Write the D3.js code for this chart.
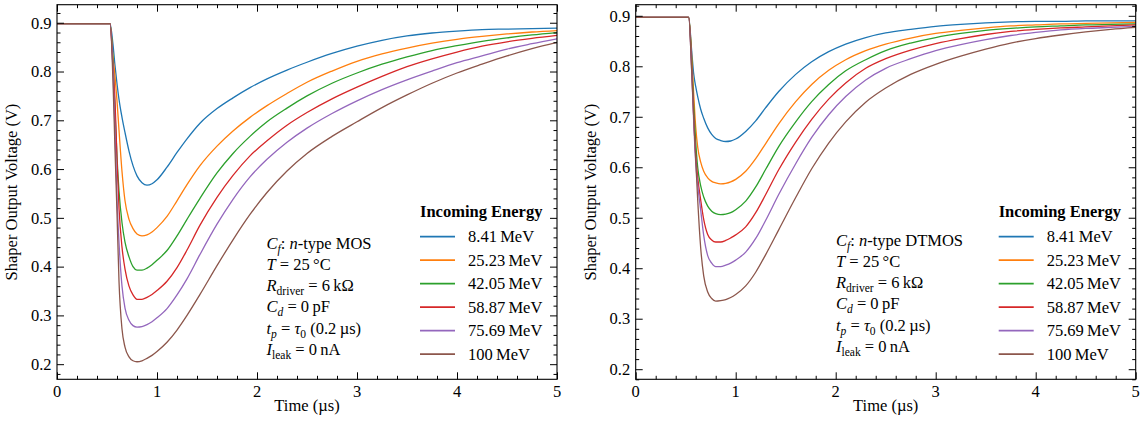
<!DOCTYPE html>
<html>
<head>
<meta charset="utf-8">
<script src="https://cdn.jsdelivr.net/npm/d3@7"></script>
<style>
  html, body { margin: 0; padding: 0; background: #fff; }
  svg { display: block; font-family: "Liberation Serif", "DejaVu Serif", serif; }
</style>
</head>
<body>
<svg id="chart" width="1142" height="425"></svg>
<script>
// Sample times (µs) shared by every trace
const times = [0, 0.53, 0.56, 0.58, 0.60, 0.62, 0.65, 0.68, 0.72, 0.76, 0.80, 0.85, 0.90, 0.95, 1.0,
               1.1, 1.2, 1.3, 1.43, 1.6, 1.76, 1.93, 2.1, 2.3, 2.5, 2.75, 3.0, 3.25, 3.5, 3.75,
               4.0, 4.25, 4.5, 4.75, 5.0];

const energies = ["8.41\u2009MeV", "25.23\u2009MeV", "42.05\u2009MeV", "58.87\u2009MeV", "75.69\u2009MeV", "100\u2009MeV"];
const colors = ["#1f77b4", "#ff7f0e", "#2ca02c", "#d62728", "#9467bd", "#8c564b"];

// Shaper output (V), n-type MOS feedback capacitor
const mos841  = [0.898,0.898,0.855,0.812,0.775,0.743,0.706,0.675,0.637,0.607,0.586,0.572,0.567,0.570,0.578,0.604,0.634,0.662,0.694,0.724,0.746,0.767,0.785,0.803,0.819,0.837,0.852,0.864,0.873,0.879,0.883,0.886,0.887,0.888,0.889];
const mos2523 = [0.898,0.898,0.83,0.79,0.74,0.68,0.595,0.535,0.497,0.478,0.467,0.463,0.465,0.471,0.48,0.503,0.535,0.568,0.607,0.647,0.678,0.706,0.730,0.755,0.778,0.801,0.821,0.836,0.848,0.858,0.866,0.872,0.877,0.881,0.884];
const mos4205 = [0.898,0.898,0.82,0.72,0.625,0.555,0.49,0.45,0.42,0.40,0.393,0.393,0.397,0.404,0.413,0.433,0.463,0.497,0.540,0.592,0.632,0.667,0.697,0.725,0.750,0.776,0.797,0.815,0.830,0.843,0.853,0.862,0.869,0.875,0.880];
const mos5887 = [0.898,0.898,0.81,0.74,0.62,0.52,0.44,0.395,0.36,0.342,0.333,0.333,0.337,0.343,0.351,0.370,0.398,0.434,0.485,0.542,0.587,0.627,0.658,0.690,0.716,0.744,0.768,0.790,0.810,0.826,0.840,0.852,0.861,0.868,0.874];
const mos7569 = [0.898,0.898,0.80,0.68,0.54,0.45,0.36,0.315,0.29,0.279,0.276,0.277,0.281,0.287,0.295,0.314,0.342,0.375,0.425,0.487,0.538,0.584,0.620,0.655,0.684,0.714,0.740,0.763,0.783,0.801,0.818,0.832,0.846,0.857,0.867];
const mos100  = [0.898,0.898,0.78,0.64,0.51,0.37,0.272,0.235,0.215,0.207,0.205,0.207,0.212,0.218,0.226,0.245,0.27,0.30,0.343,0.402,0.455,0.507,0.552,0.596,0.632,0.667,0.697,0.726,0.752,0.776,0.797,0.815,0.832,0.847,0.860];

// Shaper output (V), n-type DTMOS feedback capacitor
const dt841  = [0.897,0.897,0.83,0.785,0.76,0.74,0.715,0.697,0.678,0.665,0.657,0.653,0.651,0.652,0.656,0.671,0.692,0.718,0.750,0.784,0.809,0.829,0.844,0.857,0.866,0.873,0.879,0.883,0.886,0.888,0.889,0.889,0.890,0.890,0.890];
const dt2523 = [0.897,0.897,0.82,0.745,0.68,0.64,0.61,0.592,0.579,0.572,0.569,0.567,0.568,0.571,0.576,0.592,0.617,0.647,0.686,0.730,0.764,0.792,0.813,0.831,0.844,0.856,0.865,0.871,0.876,0.880,0.882,0.884,0.885,0.886,0.887];
const dt4205 = [0.897,0.897,0.81,0.72,0.65,0.60,0.563,0.541,0.523,0.513,0.508,0.506,0.507,0.510,0.516,0.533,0.561,0.596,0.641,0.690,0.730,0.764,0.791,0.813,0.831,0.846,0.857,0.865,0.871,0.875,0.878,0.880,0.882,0.883,0.884];
const dt5887 = [0.897,0.897,0.80,0.70,0.625,0.58,0.535,0.497,0.467,0.456,0.452,0.452,0.455,0.460,0.466,0.482,0.510,0.546,0.595,0.650,0.695,0.735,0.767,0.796,0.815,0.832,0.845,0.855,0.863,0.869,0.873,0.876,0.878,0.880,0.882];
const dt7569 = [0.897,0.897,0.79,0.69,0.61,0.565,0.515,0.465,0.425,0.41,0.403,0.403,0.406,0.41,0.416,0.432,0.459,0.495,0.546,0.607,0.659,0.704,0.740,0.773,0.796,0.815,0.831,0.843,0.853,0.861,0.867,0.872,0.875,0.877,0.879];
const dt100  = [0.897,0.897,0.79,0.70,0.615,0.535,0.44,0.385,0.353,0.34,0.335,0.336,0.338,0.342,0.348,0.365,0.392,0.427,0.476,0.540,0.597,0.648,0.690,0.729,0.757,0.784,0.804,0.820,0.834,0.846,0.855,0.862,0.868,0.873,0.877];

const xTicks = [0, 1, 2, 3, 4, 5];
const yTicks = [0.2, 0.3, 0.4, 0.5, 0.6, 0.7, 0.8, 0.9];

const svg = d3.select("#chart");
const FS = 16.5;

// Text with italic / subscript runs
function rich(sel, parts) {
  parts.forEach(p => {
    const ts = sel.append("tspan").text(p.t);
    if (p.it) ts.attr("font-style", "italic");
    if (p.sub) ts.attr("font-size", FS * 0.7).attr("dy", 4);
    if (p.up) ts.attr("dy", -4);
  });
}

function panel(cfg) {
  const { left, right, top, bottom, yDomain, series, note, noteX, noteY } = cfg;
  const x = d3.scaleLinear().domain([0, 5]).range([left, right]);
  const y = d3.scaleLinear().domain(yDomain).range([bottom, top]);
  const g = svg.append("g");

  const clipId = "clip" + Math.round(left);
  g.append("clipPath").attr("id", clipId).append("rect")
    .attr("x", left).attr("y", top).attr("width", right - left).attr("height", bottom - top);

  const line = d3.line().x(d => x(d[0])).y(d => y(d[1])).curve(d3.curveMonotoneX);
  const lines = g.append("g").attr("clip-path", `url(#${clipId})`);
  series.forEach((vals, i) => {
    lines.append("path")
      .datum(times.map((t, k) => [t, vals[k]]))
      .attr("fill", "none").attr("stroke", colors[i]).attr("stroke-width", 1.3)
      .attr("stroke-linejoin", "round")
      .attr("d", line);
  });

  // Axes with inward major/minor ticks on all four sides
  const xMinor = d3.range(0, 5.0001, 0.2).filter(v => Math.abs(v - Math.round(v)) > 1e-6);
  const yMinor = d3.range(0.16, 0.96, 0.02).map(v => +v.toFixed(2))
    .filter(v => v >= yDomain[0] && v <= yDomain[1] && Math.abs(v * 10 - Math.round(v * 10)) > 1e-6);

  const mk = (axis, ticks, size) => axis.tickValues(ticks).tickSize(size).tickFormat("");
  const styleAxis = sel => {
    sel.select(".domain").remove();
    sel.selectAll("line").attr("stroke", "#000").attr("stroke-width", 1);
  };
  g.append("g").attr("transform", `translate(0,${bottom})`).call(mk(d3.axisTop(x), xTicks, 7)).call(styleAxis);
  g.append("g").attr("transform", `translate(0,${bottom})`).call(mk(d3.axisTop(x), xMinor, 3.5)).call(styleAxis);
  g.append("g").attr("transform", `translate(0,${top})`).call(mk(d3.axisBottom(x), xTicks, 7)).call(styleAxis);
  g.append("g").attr("transform", `translate(0,${top})`).call(mk(d3.axisBottom(x), xMinor, 3.5)).call(styleAxis);
  g.append("g").attr("transform", `translate(${left},0)`).call(mk(d3.axisRight(y), yTicks, 7)).call(styleAxis);
  g.append("g").attr("transform", `translate(${left},0)`).call(mk(d3.axisRight(y), yMinor, 3.5)).call(styleAxis);
  g.append("g").attr("transform", `translate(${right},0)`).call(mk(d3.axisLeft(y), yTicks, 7)).call(styleAxis);
  g.append("g").attr("transform", `translate(${right},0)`).call(mk(d3.axisLeft(y), yMinor, 3.5)).call(styleAxis);

  g.append("rect").attr("x", left).attr("y", top).attr("width", right - left).attr("height", bottom - top)
    .attr("fill", "none").attr("stroke", "#000").attr("stroke-width", 1.1);

  // Tick labels
  g.selectAll(".xl").data(xTicks).join("text")
    .attr("x", d => x(d)).attr("y", bottom + 18).attr("text-anchor", "middle")
    .attr("font-size", FS).text(d => d3.format("d")(d));
  g.selectAll(".yl").data(yTicks).join("text")
    .attr("x", left - 5.5).attr("y", d => y(d)).attr("dy", "0.35em").attr("text-anchor", "end")
    .attr("font-size", FS).text(d => d3.format(".1f")(d));

  g.append("text").attr("x", (left + right) / 2).attr("y", 411).attr("text-anchor", "middle")
    .attr("font-size", FS).text("Time (\u00b5s)");
  g.append("text").attr("transform", `translate(${left - 40},${(top + bottom) / 2}) rotate(-90)`)
    .attr("text-anchor", "middle").attr("font-size", FS).text("Shaper Output Voltage (V)");

  // Legend
  const lx = right - 137;
  g.append("text").attr("x", lx).attr("y", 217).attr("font-size", FS).attr("font-weight", "bold")
    .text("Incoming Energy");
  energies.forEach((e, i) => {
    const yy = 236.7 + i * 23.5;
    g.append("line").attr("x1", lx).attr("x2", lx + 35).attr("y1", yy).attr("y2", yy)
      .attr("stroke", colors[i]).attr("stroke-width", 1.8);
    g.append("text").attr("x", lx + 48).attr("y", yy).attr("dy", "0.33em")
      .attr("font-size", FS).text(e);
  });

  // Simulation conditions
  const rows = [
    [{ t: "C", it: 1 }, { t: "f", it: 1, sub: 1 }, { t: ": ", up: 1 }, { t: "n", it: 1 }, { t: "-type " + note }],
    [{ t: "T", it: 1 }, { t: " = 25\u2009\u00b0C" }],
    [{ t: "R", it: 1 }, { t: "driver", sub: 1 }, { t: " = 6\u2009k\u03a9", up: 1 }],
    [{ t: "C", it: 1 }, { t: "d", it: 1, sub: 1 }, { t: " = 0\u2009pF", up: 1 }],
    [{ t: "t", it: 1 }, { t: "p", it: 1, sub: 1 }, { t: " = ", up: 1 }, { t: "\u03c4", it: 1 }, { t: "0", sub: 1 }, { t: " (0.2\u2009\u00b5s)", up: 1 }],
    [{ t: "I", it: 1 }, { t: "leak", sub: 1 }, { t: " = 0\u2009nA", up: 1 }]
  ];
  rows.forEach((r, i) => {
    const t = g.append("text").attr("x", noteX).attr("y", noteY + i * 21.3).attr("font-size", FS);
    rich(t, r);
  });
}

panel({
  left: 57, right: 557, top: 4.7, bottom: 379.3, yDomain: [0.169, 0.937],
  series: [mos841, mos2523, mos4205, mos5887, mos7569, mos100],
  note: "MOS", noteX: 266.5, noteY: 248.5
});
panel({
  left: 635.7, right: 1135.7, top: 4.7, bottom: 379.3, yDomain: [0.180, 0.922],
  series: [dt841, dt2523, dt4205, dt5887, dt7569, dt100],
  note: "DTMOS", noteX: 836, noteY: 245.5
});
</script>
</body>
</html>
